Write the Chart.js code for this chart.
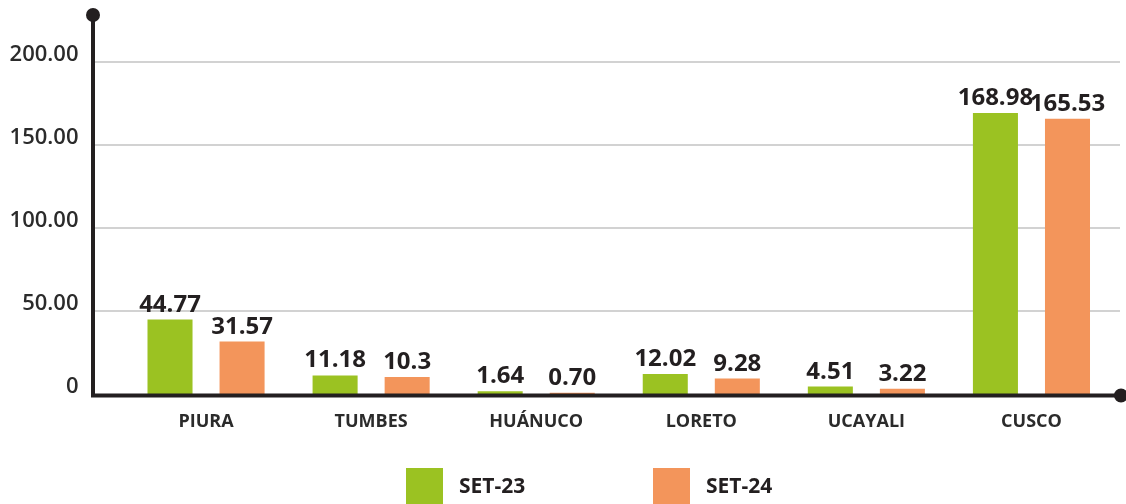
<!DOCTYPE html>
<html lang="es">
<head>
  <meta charset="UTF-8">
  <title>SET-23 vs SET-24 por región</title>
  <style>
    html, body { margin: 0; padding: 0; background: #fff; overflow: hidden; }
    #wrap { width: 1126px; height: 504px; }
  </style>
</head>
<body>
  <div id="wrap"><canvas id="chart" width="1126" height="504"></canvas></div>

  <script src="https://cdn.jsdelivr.net/npm/chart.js"></script>
  <script>
    // data
    const regions = ['PIURA', 'TUMBES', 'HUÁNUCO', 'LORETO', 'UCAYALI', 'CUSCO'];
    const set23 = [44.77, 11.18, 1.64, 12.02, 4.51, 168.98];
    const set24 = [31.57, 10.3, 0.70, 9.28, 3.22, 165.53];
    const set23Labels = ['44.77', '11.18', '1.64', '12.02', '4.51', '168.98'];
    const set24Labels = ['31.57', '10.3', '0.70', '9.28', '3.22', '165.53'];
    const yTicks = [0, 50, 100, 150, 200];
    const yTickLabels = ['0', '50.00', '100.00', '150.00', '200.00'];

    const GREEN = '#9bc222';
    const ORANGE = '#f3955b';
    const INK = '#231f20';
    const FONT = "'Open Sans', 'Noto Sans', sans-serif";

    const valueLabels = [set23Labels, set24Labels];

    // gridlines, axes with end dots, value labels and legend
    const decor = {
      id: 'decor',
      beforeDatasetsDraw(chart) {
        const { ctx, chartArea, scales: { y } } = chart;
        const axisX = chartArea.left - 30.5;
        ctx.save();
        ctx.strokeStyle = '#d2d2d2';
        ctx.lineWidth = 2;
        yTicks.forEach(v => {
          if (v === 0) return;
          const py = Math.round(y.getPixelForValue(v));
          ctx.beginPath();
          ctx.moveTo(axisX, py);
          ctx.lineTo(chartArea.right + 6, py);
          ctx.stroke();
        });
        ctx.restore();
      },
      afterDatasetsDraw(chart) {
        const { ctx, chartArea, scales: { y } } = chart;
        const axisX = chartArea.left - 30.5;
        const axisY = y.getPixelForValue(0) + 1.5;
        const rightX = chartArea.right + 7;

        ctx.save();
        // value labels
        ctx.fillStyle = INK;
        ctx.font = `bold 24px ${FONT}`;
        ctx.textAlign = 'center';
        ctx.textBaseline = 'alphabetic';
        chart.data.datasets.forEach((ds, i) => {
          chart.getDatasetMeta(i).data.forEach((bar, j) => {
            ctx.fillText(valueLabels[i][j], bar.x, bar.y - 8);
          });
        });

        // axes
        ctx.strokeStyle = INK;
        ctx.fillStyle = INK;
        ctx.lineWidth = 4;
        ctx.beginPath();
        ctx.moveTo(axisX, 15);
        ctx.lineTo(axisX, axisY + 2);
        ctx.moveTo(axisX - 2, axisY);
        ctx.lineTo(rightX, axisY);
        ctx.stroke();
        ctx.beginPath();
        ctx.arc(axisX, 15, 7, 0, Math.PI * 2);
        ctx.fill();
        ctx.beginPath();
        ctx.arc(rightX, axisY, 7, 0, Math.PI * 2);
        ctx.fill();

        // legend
        const legendX = [406, 653];
        ctx.font = `bold 21px ${FONT}`;
        ctx.textAlign = 'left';
        ctx.textBaseline = 'middle';
        chart.data.datasets.forEach((ds, i) => {
          ctx.fillStyle = ds.backgroundColor;
          ctx.fillRect(legendX[i], 468, 37, 40);
          ctx.fillStyle = INK;
          ctx.fillText(ds.label, legendX[i] + 53, 487);
        });
        ctx.restore();
      }
    };

    new Chart(document.getElementById('chart'), {
      type: 'bar',
      data: {
        labels: regions,
        datasets: [
          { label: 'SET-23', data: set23, backgroundColor: GREEN },
          { label: 'SET-24', data: set24, backgroundColor: ORANGE }
        ]
      },
      options: {
        responsive: false,
        animation: false,
        devicePixelRatio: 1,
        categoryPercentage: 0.873,
        barPercentage: 0.625,
        layout: { padding: { top: 15, right: 12, left: 0, bottom: 0 } },
        plugins: {
          legend: { display: false },
          tooltip: { enabled: false }
        },
        scales: {
          x: {
            grid: { display: false, drawTicks: false },
            border: { display: false },
            ticks: {
              color: '#2b2b2b',
              font: { family: FONT, size: 18, weight: 'bold' },
              padding: 17
            },
            afterFit(s) { s.height = 110; }
          },
          y: {
            min: 0,
            max: 228,
            grid: { display: false, drawTicks: false },
            border: { display: false },
            afterBuildTicks(axis) { axis.ticks = yTicks.map(v => ({ value: v })); },
            afterFit(s) {
              s.width = 123.5;
              s.paddingTop = 0;
              s.paddingBottom = 0;
            },
            ticks: {
              color: '#2b2b2b',
              font: { family: FONT, size: 22, weight: '600' },
              padding: 45,
              labelOffset: -7,
              callback: v => yTickLabels[yTicks.indexOf(v)]
            }
          }
        }
      },
      plugins: [decor]
    });
  </script>
</body>
</html>
